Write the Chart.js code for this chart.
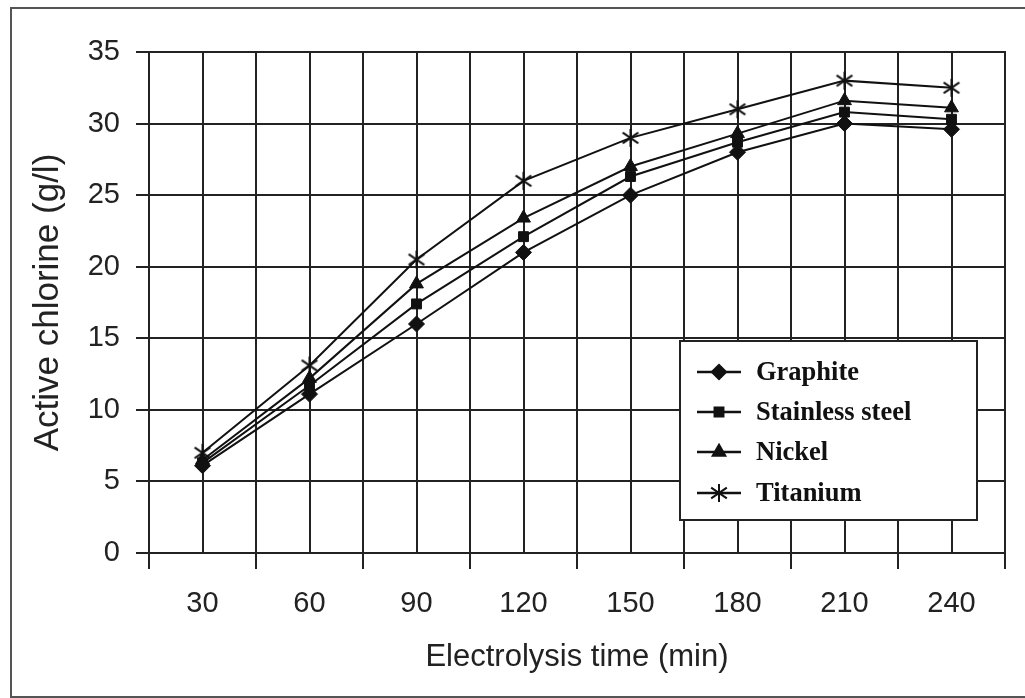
<!DOCTYPE html>
<html>
<head>
<meta charset="utf-8">
<script src="https://cdn.jsdelivr.net/npm/chart.js@4/dist/chart.umd.min.js"></script>
<style>
  html, body { margin: 0; padding: 0; background: #fff; }
  #wrap { width: 1025px; height: 698px; position: relative; }
</style>
</head>
<body>
<div id="wrap"><canvas id="c" width="1025" height="698"></canvas></div>
<script>
// ---- data ----
const times = [30, 60, 90, 120, 150, 180, 210, 240];
const seriesNames = ['Graphite', 'Stainless steel', 'Nickel', 'Titanium'];
const graphite = [6.1, 11.1, 16.0, 21.0, 25.0, 28.0, 30.0, 29.6];
const stainless = [6.3, 11.7, 17.4, 22.1, 26.3, 28.7, 30.8, 30.3];
const nickel = [6.5, 12.2, 18.8, 23.4, 27.0, 29.3, 31.6, 31.1];
const titanium = [7.0, 13.1, 20.5, 26.0, 29.0, 31.0, 33.0, 32.5];
const yTicks = [0, 5, 10, 15, 20, 25, 30, 35];
const xLabelTicks = times;

// asterisk marker (x with vertical bar) for Titanium
function makeAsterisk(size) {
  const cv = document.createElement('canvas');
  cv.width = size; cv.height = size;
  const g = cv.getContext('2d');
  g.strokeStyle = '#111'; g.lineWidth = 2; g.lineCap = 'butt';
  const m = size / 2, r = size / 2 - 2;
  g.beginPath();
  g.moveTo(m - r * 0.87, m - r * 0.6); g.lineTo(m + r * 0.87, m + r * 0.6);
  g.moveTo(m + r * 0.87, m - r * 0.6); g.lineTo(m - r * 0.87, m + r * 0.6);
  g.moveTo(m, m - r); g.lineTo(m, m + r);
  g.stroke();
  return cv;
}
const asterisk = makeAsterisk(22);

const styles = [
  { pointStyle: 'rectRot', radius: 8 },
  { pointStyle: 'rect', radius: 7 },
  { pointStyle: 'triangle', radius: 8 },
  { pointStyle: asterisk, radius: 10 }
];
const values = [graphite, stainless, nickel, titanium];

const datasets = values.map((vals, k) => ({
  label: seriesNames[k],
  data: times.map((t, i) => ({ x: t, y: vals[i] })),
  borderColor: '#111',
  backgroundColor: '#111',
  borderWidth: 2,
  pointStyle: styles[k].pointStyle,
  pointRadius: styles[k].radius,
  pointHoverRadius: styles[k].radius,
  pointBorderColor: '#111',
  pointBackgroundColor: '#111',
  pointBorderWidth: 1,
  tension: 0,
  fill: false
}));

// outer frame + plot border
const framePlugin = {
  id: 'frame',
  beforeDraw(chart) {
    const ctx = chart.ctx;
    ctx.save();
    ctx.fillStyle = '#fff';
    ctx.fillRect(0, 0, chart.width, chart.height);
    ctx.strokeStyle = '#555';
    ctx.lineWidth = 2;
    ctx.strokeRect(11, 8, 1030, 689);
    ctx.restore();
  },
  beforeDatasetsDraw(chart) {
    const a = chart.chartArea, ctx = chart.ctx;
    ctx.save();
    ctx.strokeStyle = '#222';
    ctx.lineWidth = 2;
    ctx.strokeRect(a.left, a.top, a.right - a.left, a.bottom - a.top);
    ctx.restore();
  }
};

// legend box drawn inside the plot
const legendPlugin = {
  id: 'boxLegend',
  afterDatasetsDraw(chart) {
    const ctx = chart.ctx;
    const x0 = 680, y0 = 341, w = 297, h = 179;
    ctx.save();
    ctx.fillStyle = '#fff';
    ctx.fillRect(x0, y0, w, h);
    ctx.strokeStyle = '#222';
    ctx.lineWidth = 2;
    ctx.strokeRect(x0, y0, w, h);
    const rows = [372, 412, 452, 493];
    chart.data.datasets.forEach((ds, k) => {
      const cy = rows[k];
      ctx.strokeStyle = '#111';
      ctx.lineWidth = 2.5;
      ctx.beginPath();
      ctx.moveTo(697, cy); ctx.lineTo(741, cy);
      ctx.stroke();
      ctx.fillStyle = '#111';
      Chart.helpers.drawPoint(ctx, {
        pointStyle: ds.pointStyle, radius: ds.pointRadius * 0.85, borderWidth: 1, rotation: 0
      }, 719, cy);
      ctx.fillStyle = '#111';
      ctx.font = 'bold 26.5px "Liberation Serif", "Times New Roman", serif';
      ctx.textBaseline = 'middle';
      ctx.textAlign = 'left';
      ctx.fillText(ds.label, 756, cy + 1);
    });
    ctx.restore();
  }
};

const tickFont = { family: '"Liberation Sans", Arial, sans-serif', size: 29 };

new Chart(document.getElementById('c'), {
  type: 'line',
  data: { datasets },
  options: {
    responsive: false,
    animation: false,
    devicePixelRatio: 1,
    layout: { padding: { left: 11, top: 52, right: 20, bottom: 0 } },
    plugins: { legend: { display: false }, tooltip: { enabled: false } },
    scales: {
      x: {
        type: 'linear',
        min: 15, max: 255,
        afterBuildTicks(scale) {
          const t = [];
          for (let v = 15; v <= 255; v += 15) t.push({ value: v });
          scale.ticks = t;
        },
        afterFit(scale) { scale.height = 145; },
        ticks: {
          autoSkip: false, maxRotation: 0, padding: 18,
          color: '#222', font: tickFont,
          callback: (v) => (xLabelTicks.includes(v) ? String(v) : '')
        },
        grid: {
          color: '#222', lineWidth: 2, tickLength: 16,
          tickColor: (c) => (c.tick && xLabelTicks.includes(c.tick.value) ? 'rgba(0,0,0,0)' : '#222'),
          tickWidth: 2
        },
        border: { display: true, color: '#222', width: 2 },
        title: {
          display: true, text: 'Electrolysis time (min)', color: '#222',
          font: { family: '"Liberation Sans", Arial, sans-serif', size: 31 },
          padding: { top: 0, bottom: 22 }
        }
      },
      y: {
        type: 'linear',
        min: 0, max: 35,
        afterBuildTicks(scale) { scale.ticks = yTicks.map(v => ({ value: v })); },
        afterFit(scale) { scale.width = 138; },
        ticks: { padding: 16, color: '#222', font: tickFont },
        grid: { color: '#222', lineWidth: 2, tickLength: 13, tickColor: '#222', tickWidth: 2 },
        border: { display: true, color: '#222', width: 2 },
        title: {
          display: true, text: 'Active chlorine (g/l)', color: '#222',
          font: { family: '"Liberation Sans", Arial, sans-serif', size: 35 },
          padding: { top: 16, bottom: 0 }
        }
      }
    }
  },
  plugins: [framePlugin, legendPlugin]
});
</script>
</body>
</html>
